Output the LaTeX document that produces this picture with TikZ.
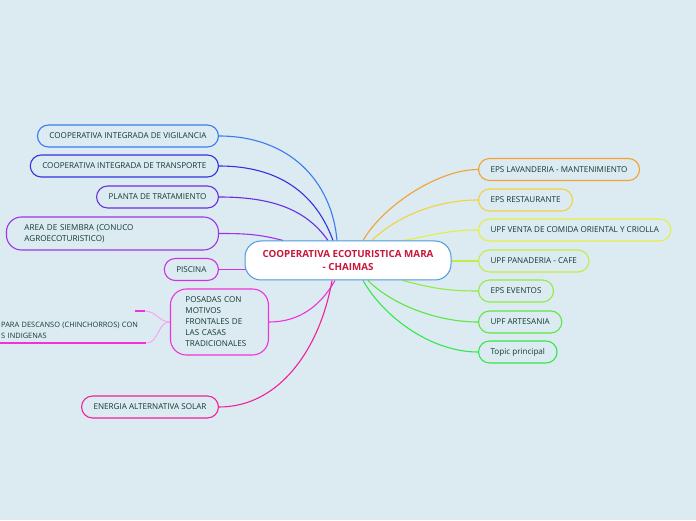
\documentclass[tikz,border=0pt]{standalone}
\usepackage{fontspec}
\setmainfont{Open Sans}
\usetikzlibrary{positioning}
\definecolor{bgc}{HTML}{DCEAF2}
\definecolor{txt}{HTML}{133B30}
\definecolor{red1}{HTML}{C8173E}
\definecolor{cbl}{HTML}{4A9BDD}
\definecolor{k1}{HTML}{3A7CF0}
\definecolor{k2}{HTML}{3333DD}
\definecolor{k3}{HTML}{6A2EE2}
\definecolor{k4}{HTML}{9B35E8}
\definecolor{k5}{HTML}{CC33E3}
\definecolor{k6}{HTML}{EE33DA}
\definecolor{k7}{HTML}{EE2299}
\definecolor{r1}{HTML}{F2A230}
\definecolor{r2}{HTML}{F4D23C}
\definecolor{r3}{HTML}{E4EF42}
\definecolor{r4}{HTML}{C2EC44}
\definecolor{r5}{HTML}{90EC44}
\definecolor{r6}{HTML}{5CE844}
\definecolor{r7}{HTML}{33E84C}
\pgfdeclarelayer{back}\pgfdeclarelayer{edges}\pgfsetlayers{back,edges,main}
\tikzset{tp/.style={draw,rounded corners=11pt,minimum height=22pt,inner xsep=12pt,inner ysep=2pt,fill=bgc,text=txt,font=\fontsize{8.1}{11}\selectfont,line width=1.1pt},
 tl/.style={tp,anchor=east},tr/.style={tp,anchor=west},
 sb/.style={text=txt,font=\fontsize{7.4}{11}\selectfont,align=left,text width=144pt,inner xsep=1pt,inner ysep=4pt},
 ctr/.style={draw=cbl,fill=white,rounded corners=16pt,minimum width=206pt,minimum height=39pt,align=center,text=red1,font=\fontsize{9.8}{13}\selectfont\bfseries,line width=1pt},
 ed/.style={line width=1.1pt},sub/.style={line width=0.9pt,k6!45}}

\begin{document}
\begin{tikzpicture}[x=1pt,y=1pt]
\begin{pgfonlayer}{back}
\fill[bgc](0,0)rectangle(696,520);
\end{pgfonlayer}
\useasboundingbox(0,0)rectangle(696,520);
\node[ctr](mr) at (348,259.5){COOPERATIVA ECOTURISTICA MARA\\- CHAIMAS};
% left side
\node[tl,draw=k1](vig) at (219,384){COOPERATIVA INTEGRADA DE VIGILANCIA};
\node[tl,draw=k2](tra) at (219,354){COOPERATIVA INTEGRADA DE TRANSPORTE};
\node[tl,draw=k3](pla) at (219,323){PLANTA DE TRATAMIENTO};
\node[tl,draw=k4,rounded corners=15pt,minimum height=33pt,text width=176pt,align=left,inner xsep=18pt](are) at (219,286.5){AREA DE SIEMBRA (CONUCO\\AGROECOTURISTICO)};
\node[tl,draw=k5](pis) at (219,250.5){PISCINA};
\node[tl,draw=k6,rounded corners=16pt,minimum height=66pt,text width=68pt,align=left,inner xsep=15pt](pos) at (269,198){POSADAS CON\\MOTIVOS\\FRONTALES DE\\LAS CASAS\\TRADICIONALES};
\node[tl,draw=k7](ene) at (219,113){ENERGIA ALTERNATIVA SOLAR};
\node[sb,anchor=south west](ham) at (0,177){PARA DESCANSO (CHINCHORROS) CON\\S INDIGENAS};
\coordinate (stb) at (145,209);
% right side
\node[tr,draw=r1](lav) at (478,350.5){EPS LAVANDERIA - MANTENIMIENTO};
\node[tr,draw=r2](res) at (478,320){EPS RESTAURANTE};
\node[tr,draw=r3](ven) at (478,290){UPF VENTA DE COMIDA ORIENTAL Y CRIOLLA};
\node[tr,draw=r4](pan) at (478,259){UPF PANADERIA - CAFE};
\node[tr,draw=r5](eve) at (478,229){EPS EVENTOS};
\node[tr,draw=r6](art) at (478,198){UPF ARTESANIA};
\node[tr,draw=r7](top) at (478,168){Topic principal};
\begin{pgfonlayer}{edges}
\draw[ed,k1](vig.east) to[out=0,in=95,out distance=70pt,in distance=60pt]([xshift=-11pt]mr.north);
\draw[ed,k2](tra.east) to[out=0,in=110,out distance=60pt,in distance=50pt]([xshift=-15pt]mr.north);
\draw[ed,k3](pla.east) to[out=0,in=125,out distance=50pt,in distance=40pt]([xshift=-20pt]mr.north);
\draw[ed,k4](are.east) to[out=0,in=165,out distance=25pt,in distance=25pt]([xshift=-65pt]mr.north);
\draw[ed,k5](pis.east) -- (pis.east -| mr.center);
\draw[ed,k6](pos.east) to[out=0,in=240,out distance=30pt,in distance=30pt]([xshift=-13pt]mr.south);
\draw[ed,k7](ene.east) to[out=0,in=260,out distance=60pt,in distance=70pt]([xshift=-16pt]mr.south);
\draw[ed,r1](lav.west) to[out=180,in=60,out distance=40pt,in distance=40pt]([xshift=15pt]mr.north);
\draw[ed,r2](res.west) to[out=180,in=45,out distance=40pt,in distance=35pt]([xshift=24pt]mr.north);
\draw[ed,r3](ven.west) to[out=180,in=10,out distance=30pt,in distance=30pt]([xshift=55pt]mr.north);
\draw[ed,r4](pan.west) -- (pan.west -| mr.center);
\draw[ed,r5](eve.west) to[out=180,in=-15,out distance=30pt,in distance=30pt]([xshift=55pt]mr.south);
\draw[ed,r6](art.west) to[out=180,in=-45,out distance=40pt,in distance=35pt]([xshift=20pt]mr.south);
\draw[ed,r7](top.west) to[out=180,in=-60,out distance=45pt,in distance=45pt]([xshift=15pt]mr.south);
\draw[sub](pos.west) to[out=180,in=0](stb);
\draw[sub](pos.west) to[out=180,in=0](ham.south east);
\end{pgfonlayer}
\draw[k6,line width=1.6pt](stb) -- ++(-10,0);
\draw[k6,line width=1.2pt](ham.south west) -- (ham.south east);
\end{tikzpicture}
\end{document}
